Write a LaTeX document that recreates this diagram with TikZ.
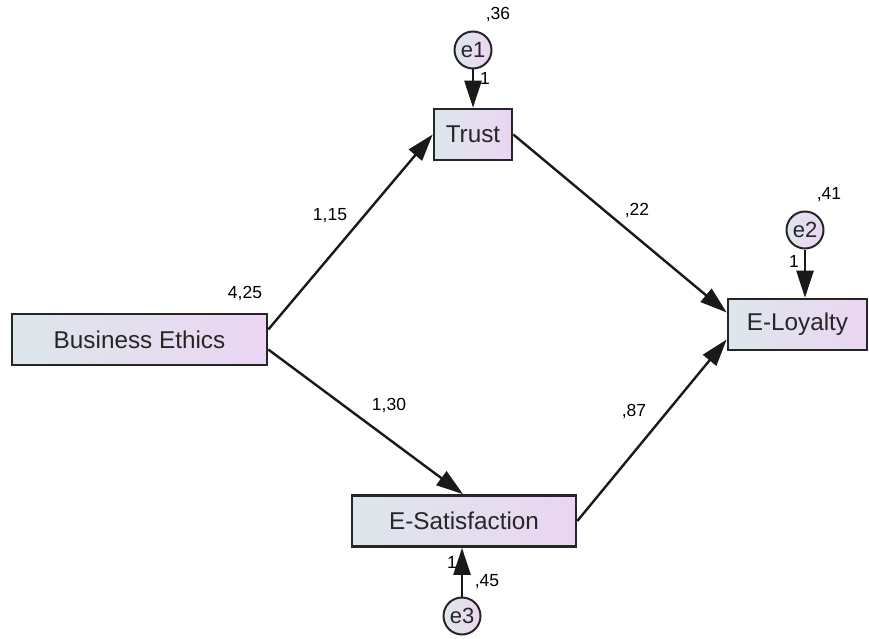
\documentclass[tikz,border=0pt]{standalone}
\usepackage{fontspec}
\setmainfont{Liberation Sans}
\usetikzlibrary{arrows.meta,calc}
\begin{document}
\begin{tikzpicture}[x=1pt,y=-1pt,
  obs/.style={draw=black!85,line width=2.6pt,left color=leftc,right color=rightc,
    minimum height=51pt,inner sep=0pt,font=\fontsize{24.3}{26}\selectfont,text=black!85},
  err/.style={circle,draw=black!85,line width=2pt,left color=leftc,right color=rightc,
    minimum size=37pt,inner sep=0pt,font=\fontsize{22}{24}\selectfont,text=black!85},
  path/.style={line width=2.4pt,draw=black!90,-{Triangle[length=27pt,width=17pt]}},
  lab/.style={font=\fontsize{17.5}{20}\selectfont,text=black,inner sep=0pt}]
\definecolor{leftc}{HTML}{DDE7EB}
\definecolor{rightc}{HTML}{EBD5F3}
\useasboundingbox (0,0) rectangle (869,639);
\node[obs,minimum width=255pt] (be) at (139.5,339.5) {Business Ethics};
\node[obs,minimum width=78pt] (tr) at (473,134.5) {Trust};
\node[obs,minimum width=139pt] (el) at (797.5,324.5) {E-Loyalty};
\node[obs,minimum width=224pt] (es) at (464,521) {E-Satisfaction};
\node[err] (e1) at (473,50) {e1};
\node[err] (e2) at (805,230) {e2};
\node[err] (e3) at (462,616) {e3};
\draw[path] ($(be.east)+(0,-10)$) -- (tr.west);
\draw[path] ($(be.east)+(0,10)$) -- ($(es.north)+(-1,0)$);
\draw[path] (tr.east) -- ($(el.west)+(0,-12)$);
\draw[path] (es.east) -- ($(el.west)+(0,15)$);
\draw[path] (e1) -- (tr.north);
\draw[path] (e2) -- ($(el.north)+(7.5,0)$);
\draw[path] (e3) -- ($(es.south)+(-2,0)$);
\node[lab] (l36) at (498,15) {,36};
\node[lab] (l1a) at (485,78) {1};
\node[lab] (l41) at (829,195) {,41};
\node[lab] (l1b) at (794,261) {1};
\node[lab] (l115) at (330,216) {1,15};
\node[lab] (l425) at (245,294) {4,25};
\node[lab] (l22) at (637,211) {,22};
\node[lab] (l130) at (389,406) {1,30};
\node[lab] (l87) at (634,412) {,87};
\node[lab] (l1c) at (452,562) {1};
\node[lab] (l45) at (487,582) {,45};
\end{tikzpicture}
\end{document}
